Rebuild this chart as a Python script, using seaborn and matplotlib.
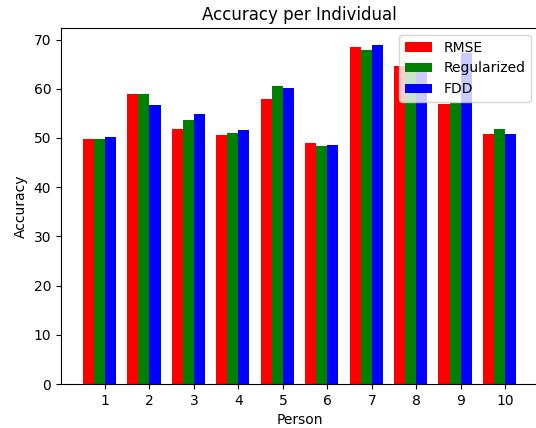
import numpy as np
import matplotlib
matplotlib.use("Agg")
import matplotlib.pyplot as plt
import pandas as pd
import seaborn as sns

# Values
persons = [1, 2, 3, 4, 5, 6, 7, 8, 9, 10]
rmse = [49.8, 58.9, 51.9, 50.5, 58.0, 49.0, 68.5, 64.6, 57.0, 50.9]
regularized = [49.8, 58.9, 53.6, 51.0, 60.5, 48.4, 67.8, 65.0, 57.2, 51.8]
fdd = [50.2, 56.6, 54.8, 51.7, 60.2, 48.6, 68.9, 64.3, 67.3, 50.8]
methods = ["RMSE", "Regularized", "FDD"]
colors = ["red", "green", "blue"]

# Long-form table for seaborn
df = pd.DataFrame({
    "Person": persons * 3,
    "Accuracy": rmse + regularized + fdd,
    "Method": [m for m in methods for _ in persons],
})

fig = plt.figure(figsize=(5.36, 4.28), dpi=100)
ax = fig.add_axes([61 / 536, 44 / 428, 477 / 536, 356 / 428])

sns.barplot(
    data=df, x="Person", y="Accuracy", hue="Method",
    palette=colors, saturation=1, width=0.75, errorbar=None,
    linewidth=0, ax=ax,
)

# Shift ticks so each group sits left of its label, like the original
n = len(persons)
ax.set_xticks(np.arange(n) + 0.125)
ax.set_xticklabels([str(p) for p in persons])
ax.set_xlim(-0.8625, n - 1 + 0.8625)
ax.set_ylim(0, max(rmse + regularized + fdd) * 1.05)

ax.set_title("Accuracy per Individual")
ax.set_xlabel("Person")
ax.set_ylabel("Accuracy")
ax.legend(loc="upper right", title=None)

fig.savefig("out.png", dpi=100)
